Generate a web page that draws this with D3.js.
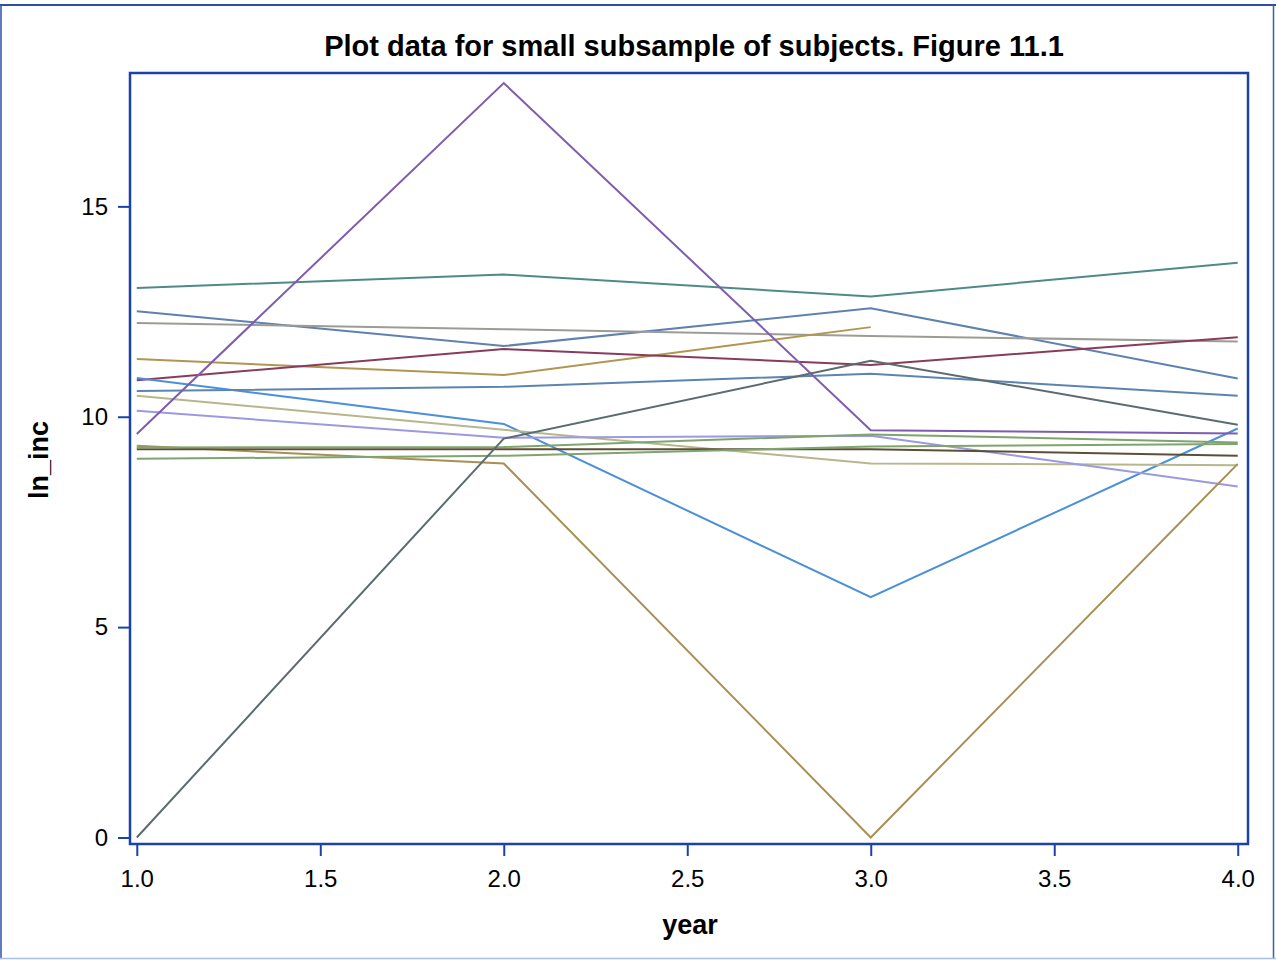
<!DOCTYPE html>
<html>
<head>
<meta charset="utf-8">
<script src="https://cdn.jsdelivr.net/npm/d3@7"></script>
<style>
  html, body { margin: 0; padding: 0; background: #ffffff; }
  svg { display: block; font-family: "Liberation Sans", Arial, sans-serif; }
</style>
</head>
<body>
<svg id="chart" width="1276" height="961"></svg>
<script>
// Measurement occasions
const years = [1, 2, 3, 4];

// Log income per subject at each year (null = not observed)
const subj01 = [13.06, 13.38, 12.86, 13.66];
const subj02 = [12.51, 11.68, 12.58, 10.91];
const subj03 = [12.23, 12.08, 11.92, 11.79];
const subj04 = [11.37, 10.99, 12.13, null];
const subj05 = [10.87, 11.61, 11.23, 11.89];
const subj06 = [10.92, 9.83, 5.71, 9.72];
const subj07 = [10.61, 10.71, 11.02, 10.50];
const subj08 = [10.50, 9.69, 8.89, 8.85];
const subj09 = [10.14, 9.50, 9.55, 8.34];
const subj10 = [9.59, 17.93, 9.68, 9.60];
const subj11 = [9.31, 8.89, 0.00, 8.88];
const subj12 = [9.23, 9.23, 9.23, 9.07];
const subj13 = [9.00, 9.07, 9.29, 9.35];
const subj14 = [9.27, 9.28, 9.58, 9.39];
const subj15 = [0.00, 9.48, 11.33, 9.81];

const subjects = [subj01, subj02, subj03, subj04, subj05, subj06, subj07, subj08,
                  subj09, subj10, subj11, subj12, subj13, subj14, subj15];
const lineColors = ["#4e8b86", "#5f81b0", "#9c9c96", "#b0964f", "#8a3b5c", "#4a90d8",
                    "#5c84b1", "#b8b68c", "#9b99df", "#7e5cae", "#a98f55", "#5c4f35",
                    "#7fa46e", "#7fa46e", "#5c6b70"];

const yTicks = [0, 5, 10, 15];
const xTicks = [1.0, 1.5, 2.0, 2.5, 3.0, 3.5, 4.0];

const titleText = "Plot data for small subsample of subjects. Figure 11.1";
const xLabel = "year";
const yLabel = "ln_inc";

const svg = d3.select("#chart");
const axisBlue = "#1a42a8";

// Plot frame
const frame = { left: 130, top: 73, right: 1248, bottom: 844 };

const x = d3.scaleLinear().domain([0.9815, 4.028]).range([frame.left, frame.right]);
const y = d3.scaleLinear().domain([-0.155, 18.17]).range([frame.bottom, frame.top]);

// Outer figure border
svg.append("line").attr("x1", 0).attr("x2", 1276).attr("y1", 5).attr("y2", 5)
  .attr("stroke", "#2a50a8").attr("stroke-width", 2);
svg.append("line").attr("x1", 1).attr("x2", 1).attr("y1", 5).attr("y2", 958)
  .attr("stroke", "#2a50a8").attr("stroke-width", 1.5);
svg.append("line").attr("x1", 1273.5).attr("x2", 1273.5).attr("y1", 5).attr("y2", 958)
  .attr("stroke", "#3a60b0").attr("stroke-width", 1.5);
svg.append("line").attr("x1", 0).attr("x2", 1276).attr("y1", 958.5).attr("y2", 958.5)
  .attr("stroke", "#a9c0e6").attr("stroke-width", 1.5);

// Title
svg.append("text")
  .attr("x", 694).attr("y", 56)
  .attr("text-anchor", "middle")
  .attr("font-weight", "bold")
  .style("font-size", "29px")
  .attr("fill", "#000")
  .text(titleText);

// Subject trajectories
const lineGen = d3.line()
  .defined(d => d[1] !== null)
  .x(d => x(d[0]))
  .y(d => y(d[1]));

const g = svg.append("g");
subjects.forEach((vals, i) => {
  g.append("path")
    .datum(years.map((yr, j) => [yr, vals[j]]))
    .attr("fill", "none")
    .attr("stroke", lineColors[i])
    .attr("stroke-width", 2)
    .attr("stroke-linejoin", "miter")
    .attr("d", lineGen);
});

// Axes
const xAxis = d3.axisBottom(x).tickValues(xTicks).tickFormat(d3.format(".1f"))
  .tickSize(12).tickSizeOuter(0).tickPadding(14);
const yAxis = d3.axisLeft(y).tickValues(yTicks).tickFormat(d3.format("d"))
  .tickSize(12).tickSizeOuter(0).tickPadding(10);

const gx = svg.append("g").attr("transform", `translate(0,${frame.bottom})`).call(xAxis);
const gy = svg.append("g").attr("transform", `translate(${frame.left},0)`).call(yAxis);
[gx, gy].forEach(ax => {
  ax.select(".domain").remove();
  ax.attr("font-size", null).attr("font-family", null);
  ax.selectAll(".tick line").attr("stroke", axisBlue).attr("stroke-width", 2);
  ax.selectAll(".tick text").attr("fill", "#000").style("font-size", "24px");
});

// Frame box
svg.append("rect")
  .attr("x", frame.left).attr("y", frame.top)
  .attr("width", frame.right - frame.left).attr("height", frame.bottom - frame.top)
  .attr("fill", "none").attr("stroke", axisBlue).attr("stroke-width", 2.5);

// Axis labels
svg.append("text")
  .attr("x", 690).attr("y", 934)
  .attr("text-anchor", "middle").attr("font-weight", "bold").style("font-size", "27px")
  .text(xLabel);
svg.append("text")
  .attr("transform", "translate(48,460) rotate(-90)")
  .attr("text-anchor", "middle").attr("font-weight", "bold").style("font-size", "27px")
  .text(yLabel);
</script>
</body>
</html>
